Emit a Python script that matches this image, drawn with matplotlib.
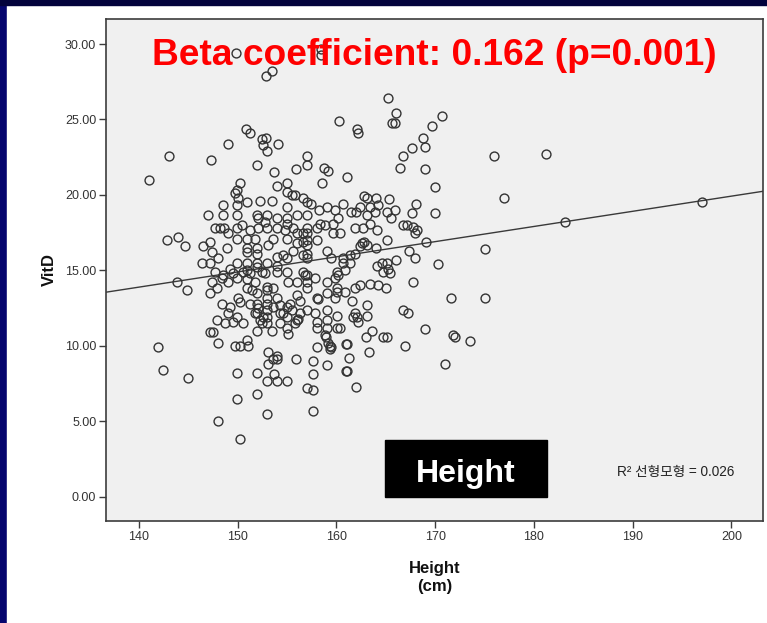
import matplotlib
matplotlib.use("Agg")
import matplotlib.pyplot as plt
from matplotlib.patches import Rectangle
import numpy as np

# Height (cm) and vitamin D for each subject
height = [
    149.8, 158.4, 158.4, 152.9, 153.5, 165.2, 166.0, 165.6, 165.9, 170.7,
    169.7, 160.3, 162.1, 162.2, 150.8, 151.2, 152.5, 152.9, 152.6, 153.0,
    154.1, 149.0, 168.8, 169.0, 167.7, 166.7, 143.0, 147.3, 157.0, 157.0,
    155.9, 152.0, 153.7, 158.7, 159.1, 166.4, 169.0, 176.0, 181.2, 161.1,
    141.0, 158.5, 154.0, 155.0, 150.2, 149.9, 149.7, 150.0, 155.0, 155.5,
    155.8, 156.6, 157.0, 157.4, 170.0, 162.8, 163.1, 164.0, 165.3, 177.0,
    168.1, 160.7, 162.4, 163.4, 164.2, 159.0, 148.5, 149.9, 150.9, 152.3,
    153.5, 155.0, 197.0, 161.5, 162.0, 159.9, 158.2, 165.1, 165.9, 165.5,
    167.7, 170.0, 157.0, 163.1, 163.9, 147.0, 148.5, 149.9, 152.0, 153.0,
    154.0, 155.0, 156.0, 152.1, 150.4, 152.8, 155.0, 147.7, 148.2, 148.6,
    149.0, 149.9, 151.2, 152.1, 153.0, 154.0, 154.8, 155.6, 156.6, 157.0,
    158.0, 158.8, 159.6, 160.2, 159.7, 160.4, 161.9, 162.7, 163.4, 164.1,
    166.7, 167.1, 167.8, 168.2, 168.0, 158.3, 183.1, 157.0, 156.0, 165.1,
    169.1, 142.8, 144.0, 144.7, 146.5, 147.2, 147.4, 148.0, 146.4, 147.2,
    148.9, 149.9, 150.9, 151.8, 153.6, 155.0, 156.0, 156.6, 150.9, 150.9,
    152.0, 152.0, 153.1, 154.0, 154.6, 155.0, 155.6, 156.6, 157.0, 157.0,
    157.0, 158.0, 157.0, 159.0, 159.4, 160.7, 161.4, 161.9, 162.6, 162.8,
    163.1, 164.0, 167.3, 168.0, 166.0, 175.0, 162.4, 147.7, 148.5, 149.2,
    149.9, 150.9, 150.9, 151.2, 152.0, 152.0, 152.5, 152.8, 153.0, 154.0,
    154.0, 155.0, 156.6, 156.8, 160.7, 161.4, 160.9, 157.8, 160.1, 164.1,
    164.6, 165.1, 165.2, 164.7, 165.4, 170.3, 157.0, 157.0, 157.0, 159.0,
    159.9, 160.2, 167.8, 171.6, 162.4, 161.9, 163.4, 164.2, 165.0, 160.1,
    160.1, 160.9, 159.0, 159.9, 143.9, 144.9, 147.4, 147.2, 147.9, 148.4,
    149.0, 149.9, 149.5, 150.5, 150.9, 150.9, 151.4, 151.8, 152.0, 153.0,
    153.0, 153.0, 153.6, 154.0, 155.1, 156.0, 156.0, 156.3, 175.0, 150.0,
    150.2, 148.4, 149.2, 149.0, 149.9, 150.5, 147.9, 148.7, 149.5, 147.2,
    147.5, 148.0, 149.7, 150.2, 150.9, 151.0, 153.0, 153.0, 153.0, 153.0,
    153.6, 154.3, 155.0, 156.0, 155.0, 152.0, 151.8, 152.5, 152.0, 153.5,
    154.3, 155.0, 155.1, 161.6, 163.1, 163.1, 161.9, 162.1, 162.2, 161.7,
    158.0, 158.1, 157.0, 157.8, 158.0, 158.0, 159.0, 159.0, 159.0, 160.1,
    160.1, 160.4, 158.8, 159.1, 158.0, 159.4, 166.7, 167.2, 169.0, 171.8,
    172.0, 173.5, 165.1, 166.9, 163.6, 163.0, 161.1, 164.7, 155.5, 154.6,
    154.3, 155.3, 155.8, 156.1, 156.3, 152.6, 152.3, 152.0, 152.1, 151.2,
    141.9, 142.4, 145.0, 159.3, 159.3, 161.0, 158.9, 149.9, 152.0, 152.0,
    149.9, 148.0, 150.2, 153.0, 153.1, 153.1, 153.6, 154.0, 154.0, 153.0,
    154.0, 155.0, 153.7, 155.9, 157.6, 157.6, 157.0, 157.6, 157.6, 159.0,
    161.3, 161.0, 161.1, 162.0, 163.3, 171.0,
]
vitd = [
    29.4, 29.7, 29.3, 27.9, 28.2, 26.4, 25.4, 24.8, 24.8, 25.2,
    24.6, 24.9, 24.4, 24.1, 24.4, 24.1, 23.7, 23.8, 23.3, 22.9,
    23.4, 23.4, 23.8, 23.2, 23.1, 22.6, 22.6, 22.3, 22.6, 22.0,
    21.7, 22.0, 21.5, 21.8, 21.6, 21.8, 21.7, 22.6, 22.7, 21.2,
    21.0, 20.8, 20.6, 20.8, 20.8, 20.3, 20.1, 19.8, 20.2, 20.0,
    20.0, 19.8, 19.5, 19.4, 20.5, 19.9, 19.8, 19.8, 19.7, 19.8,
    19.4, 19.4, 19.2, 19.2, 19.3, 19.2, 19.3, 19.3, 19.5, 19.6,
    19.6, 19.2, 19.5, 18.9, 18.9, 19.0, 19.0, 18.9, 19.0, 18.5,
    18.8, 18.8, 18.7, 18.7, 18.9, 18.7, 18.7, 18.7, 18.7, 18.7,
    18.5, 18.5, 18.7, 18.5, 18.0, 18.2, 18.1, 17.8, 17.8, 17.8,
    17.5, 17.8, 17.7, 17.8, 17.8, 17.8, 17.7, 17.8, 17.5, 17.8,
    17.8, 18.0, 18.1, 18.5, 17.5, 17.5, 17.8, 17.8, 18.1, 17.7,
    18.0, 18.0, 17.9, 17.7, 17.5, 18.1, 18.2, 17.5, 17.5, 17.0,
    16.9, 17.0, 17.2, 16.6, 16.6, 16.9, 16.2, 15.8, 15.5, 15.5,
    16.5, 17.1, 17.1, 17.1, 17.1, 17.1, 16.8, 16.9, 16.5, 16.2,
    16.5, 16.1, 16.7, 15.9, 16.0, 15.8, 16.3, 16.0, 15.8, 17.0,
    16.7, 17.0, 16.1, 16.3, 15.8, 15.8, 16.0, 16.1, 16.8, 16.9,
    16.7, 16.5, 16.3, 15.8, 15.7, 16.4, 16.6, 14.9, 14.7, 15.1,
    15.5, 15.5, 15.0, 14.8, 15.5, 15.2, 14.9, 14.8, 15.5, 15.3,
    14.9, 14.9, 14.9, 14.7, 15.5, 15.5, 15.0, 14.5, 14.9, 15.3,
    15.5, 15.5, 15.1, 14.9, 14.8, 15.4, 14.7, 14.2, 13.8, 14.2,
    14.5, 14.7, 14.2, 13.2, 14.0, 13.8, 14.1, 14.0, 13.8, 13.8,
    13.6, 13.6, 13.5, 13.2, 14.2, 13.7, 14.2, 13.5, 13.8, 14.5,
    14.2, 14.5, 14.8, 14.9, 14.4, 13.8, 13.7, 14.2, 13.5, 13.9,
    13.7, 13.2, 13.8, 13.2, 14.2, 14.2, 13.4, 13.0, 13.2, 13.2,
    12.9, 12.8, 12.6, 12.2, 11.9, 11.5, 11.7, 11.5, 11.6, 10.9,
    10.9, 10.2, 10.0, 10.0, 10.4, 10.0, 12.8, 12.4, 11.9, 11.5,
    12.6, 12.2, 12.6, 11.7, 11.9, 12.8, 12.2, 11.5, 11.0, 11.0,
    11.5, 11.2, 10.8, 13.0, 12.7, 12.0, 12.2, 11.9, 11.6, 11.9,
    13.2, 13.1, 12.4, 12.2, 11.6, 11.2, 12.4, 11.7, 11.2, 12.0,
    11.2, 11.2, 10.7, 10.2, 9.9, 9.9, 12.4, 12.2, 11.1, 10.7,
    10.6, 10.3, 10.6, 10.0, 11.0, 10.6, 10.1, 10.6, 12.4, 12.2,
    12.7, 12.8, 11.5, 11.8, 12.2, 11.9, 11.7, 12.2, 12.5, 12.8,
    9.9, 8.4, 7.9, 10.0, 9.8, 10.1, 10.6, 8.2, 8.2, 6.8,
    6.5, 5.0, 3.8, 5.5, 9.6, 8.8, 9.1, 9.3, 9.1, 7.7,
    7.7, 7.7, 8.1, 9.1, 9.0, 8.1, 7.2, 7.1, 5.7, 8.7,
    9.2, 8.3, 8.3, 7.3, 9.6, 8.8,
]

# linear fit line (intercept, slope) and reported statistics
fit_intercept = -0.18
fit_slope = 0.1005
beta = 0.162
p_value = 0.001
r_squared = 0.026

x_ticks = [140, 150, 160, 170, 180, 190, 200]
y_ticks = [0, 5, 10, 15, 20, 25, 30]

W, H = 767, 623
fig = plt.figure(figsize=(W / 100, H / 100), dpi=100, facecolor='#05056e')

# white slide panel with dark band on top
fig.patches.append(Rectangle((7 / W, 0), 1 - 7 / W, 1 - 5 / H,
                             transform=fig.transFigure, color='white', zorder=0))
fig.patches.append(Rectangle((0, 1 - 5 / H), 1, 5 / H,
                             transform=fig.transFigure, color='#02023c', zorder=0))

ax = fig.add_axes([106 / W, 1 - 521 / H, (763 - 106) / W, (521 - 19) / H])
ax.set_zorder(2)
ax.set_facecolor('#f0f0f0')

ax.plot(height, vitd, linestyle='none', marker='o', markersize=6.4,
        markerfacecolor='none', markeredgecolor='#333333', markeredgewidth=1.0,
        zorder=3)

xlim = (136.66, 203.2)
xs = np.array(xlim)
ax.plot(xs, fit_intercept + fit_slope * xs, color='#3a3a3a', lw=1.0, zorder=2)

ax.set_xlim(*xlim)
ax.set_ylim(-1.61, 31.66)
ax.set_xticks(x_ticks)
ax.set_yticks(y_ticks)
ax.set_xticklabels([str(t) for t in x_ticks])
ax.set_yticklabels([f'{t:.2f}' for t in y_ticks])

for s in ax.spines.values():
    s.set_color('#3c3c3c')
    s.set_linewidth(1.2)

ax.tick_params(direction='out', length=5, width=1.0, color='#3c3c3c',
               labelsize=9, labelcolor='#333333', pad=2)
for lab in ax.get_xticklabels() + ax.get_yticklabels():
    lab.set_family('Liberation Sans')

ax.set_ylabel('VitD', fontsize=12, fontweight='bold', family='Liberation Sans',
              color='#111111', labelpad=5.5)
ax.set_xlabel('Height\n(cm)', fontsize=12, fontweight='bold', family='Liberation Sans',
              color='#111111', labelpad=13, linespacing=1.3)

# red annotation across the top
fig.text(152 / W, 1 - 65 / H, f'Beta coefficient: {beta} (p={p_value:.3f})',
         color='#ff0000', fontsize=26.7, fontweight='bold', family='Liberation Sans',
         ha='left', va='baseline', zorder=5)

# black label box
fig.patches.append(Rectangle((385 / W, 1 - 497 / H), (547 - 385) / W, (497 - 440) / H,
                             transform=fig.transFigure, color='black', zorder=4))
fig.text(466 / W, 1 - 482 / H, 'Height', color='white', fontsize=23, fontweight='bold',
         family='Liberation Sans', ha='center', va='baseline', zorder=5)

ax.text(617 / W, 1 - 476 / H, f'R² 선형모형 = {r_squared}', transform=fig.transFigure,
        fontsize=9.8, color='#222222', family=['Liberation Sans', 'Noto Sans CJK KR'],
        ha='left', va='baseline', zorder=5)

fig.savefig('out.png', dpi=100, facecolor=fig.get_facecolor())
